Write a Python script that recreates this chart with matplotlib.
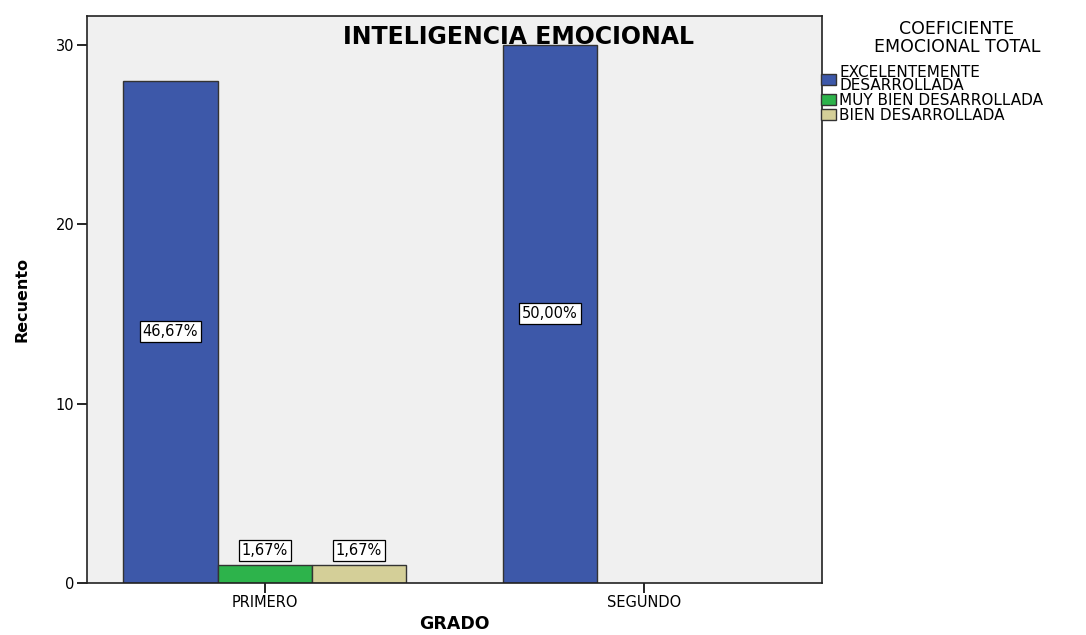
import numpy as np
import matplotlib
matplotlib.use('Agg')
from matplotlib import pyplot as plt

plt.rcParams['font.family'] = ['DejaVu Sans']

# datos
grados = ['PRIMERO', 'SEGUNDO']
categorias = ['EXCELENTEMENTE\nDESARROLLADA', 'MUY BIEN DESARROLLADA', 'BIEN DESARROLLADA']
recuentos = [[28, 30],   # excelentemente
             [1, 0],     # muy bien
             [1, 0]]     # bien
colores = ['#3D58A9', '#2DB34B', '#D4CF98']
total = 60

fig = plt.figure(figsize=(10.86, 6.35), dpi=100)
ax = fig.add_axes([0.0801, 0.0819, 0.6768, 0.893])
ax.set_facecolor('#F0F0F0')

x = np.arange(len(grados))
w = 0.248
for i in range(len(categorias)):
    vals = np.array(recuentos[i])
    pos = x + (i - 1) * w
    mask = vals > 0
    ax.bar(pos[mask], vals[mask], width=w, color=colores[i], edgecolor='#333333',
           linewidth=1.0, label=categorias[i], zorder=2)
    for p, v in zip(pos[mask], vals[mask]):
        txt = ('%.2f%%' % (100.0 * v / total)).replace('.', ',')
        if v > 5:
            yy = v / 2
        else:
            yy = v + 0.8
        ax.text(p, yy, txt, ha='center', va='center', fontsize=10.5, zorder=3,
                bbox=dict(boxstyle='square,pad=0.2', fc='white', ec='black', lw=0.9))

ax.set_xlim(-0.468, 1.469)
ax.set_ylim(0, 31.6)
ax.set_xticks(x)
ax.set_xticklabels(grados, fontsize=10)
ax.set_yticks([0, 10, 20, 30])
ax.tick_params(axis='both', direction='out', length=7, width=1.2, labelsize=10.5, pad=2)
for s in ax.spines.values():
    s.set_linewidth(1.2)
    s.set_color('#222222')

ax.set_xlabel('GRADO', fontsize=12.5, fontweight='bold', labelpad=3)
ax.set_ylabel('Recuento', fontsize=11.5, fontweight='bold', labelpad=19)
ax.text(0.587, 0.963, 'INTELIGENCIA EMOCIONAL', transform=ax.transAxes, ha='center',
        va='center', fontsize=17, fontweight='bold', zorder=4)

# leyenda: titulo aparte para controlar el espacio
fig.text(0.881, 0.94, 'COEFICIENTE\nEMOCIONAL TOTAL', ha='center', va='center',
         fontsize=12.5, linespacing=0.95, multialignment='center')
leg = fig.legend(loc='upper left', bbox_to_anchor=(0.756, 0.898), frameon=False,
                 fontsize=11, handlelength=1.0, handleheight=0.75, handletextpad=0.2,
                 labelspacing=0.0, borderaxespad=0, borderpad=0)
for t in leg.get_texts():
    t.set_linespacing(0.85)

plt.savefig('out.png')
